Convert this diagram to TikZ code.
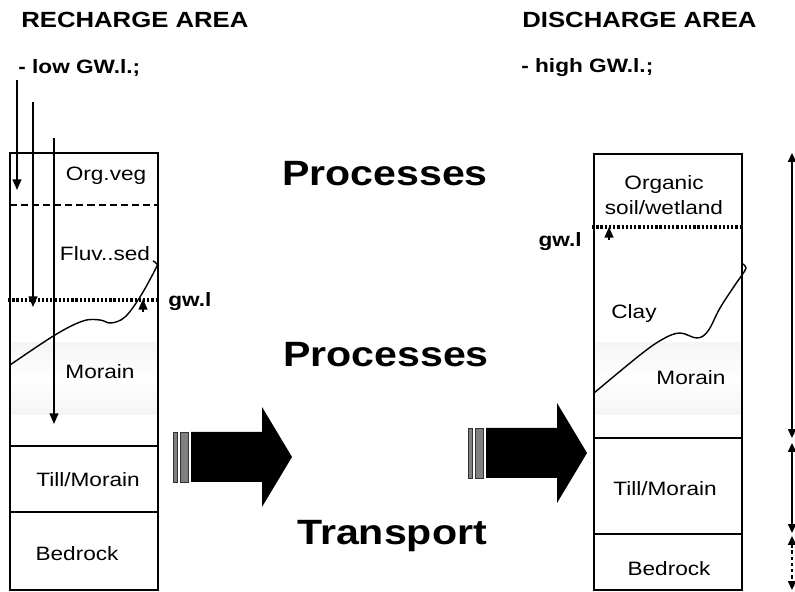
\documentclass[tikz,border=0pt]{standalone}
\usepackage{fontspec}
\setmainfont{Liberation Sans}[FakeStretch=1.17]
\usetikzlibrary{arrows.meta}

\begin{document}
\begin{tikzpicture}[
  lbl/.style={font=\fontsize{11}{13}\selectfont, inner sep=0pt, anchor=base},
  gwlbl/.style={font=\fontsize{11}{13}\selectfont\bfseries, inner sep=0pt, anchor=base},
  head/.style={font=\fontsize{12.5}{15}\selectfont\bfseries, inner sep=0pt, anchor=base west},
  sub/.style={font=\fontsize{11}{13}\selectfont\bfseries, inner sep=0pt, anchor=base west},
  proc/.style={font=\fontsize{20}{24}\selectfont\bfseries, inner sep=0pt, anchor=base},
  box/.style={line width=1.1pt},
  layer/.style={line width=0.8pt},
  sedline/.style={line width=1.2pt, dash pattern=on 4pt off 2.3pt},
  gwline/.style={line width=1.8pt, dash pattern=on 1.3pt off 1.1pt},
  gwcurve/.style={line width=0.8pt},
  flow/.style={line width=0.9pt, -{Triangle[length=6pt,width=5pt]}},
  rise/.style={line width=0.9pt, -{Triangle[length=6pt,width=5pt]}},
  span/.style={line width=1pt, {Triangle[length=5pt,width=4.5pt]}-{Triangle[length=5pt,width=4.5pt]}},
  bar/.style={draw=black!80, fill=black!50, line width=0.5pt},
  band/.style={top color=black!4, bottom color=black!4, middle color=white},
]
\useasboundingbox (0,0) rectangle (15.9,11.84);
%\draw[step=0.5cm,gray,very thin] (0,0) grid (15.9,11.84); %background grid

% headings
\node[head] (rech) at (0.42,11.28) {RECHARGE AREA};
\node[sub] (low) at (0.36,10.36) {- low GW.l.;};
\node[head] (disch) at (10.44,11.28) {DISCHARGE AREA};
\node[sub] (high) at (10.42,10.38) {- high GW.l.;};

% light band in the morain
\shade[band] (0.2,3.54) rectangle (3.16,4.98);
\shade[band] (11.88,3.54) rectangle (14.84,4.98);

% recharge column
\draw[box] (0.2,0.04) rectangle (3.16,8.78);
\draw[layer] (0.2,2.92) -- (3.16,2.92);
\draw[layer] (0.2,1.60) -- (3.16,1.60);
\draw[sedline] (0.2,7.74) -- (3.16,7.74);
\draw[gwline] (0.16,5.84) -- (3.16,5.84);

\node[lbl] (orgveg) at (2.12,8.22) {Org.veg};
\node[lbl] (fluv) at (2.10,6.62) {Fluv..sed};
\node[lbl] (morL) at (2.00,4.26) {Morain};
\node[lbl] (tillL) at (1.76,2.10) {Till/Morain};
\node[lbl] (bedL) at (1.54,0.62) {Bedrock};
\node[gwlbl, anchor=base west] (gwL) at (3.36,5.70) {gw.l};

\draw[gwcurve] plot[smooth, tension=0.6] coordinates {(0.20,4.54) (1.10,5.14) (1.66,5.42) (2.00,5.44) (2.22,5.38) (2.50,5.50) (2.80,5.90) (3.10,6.44) (3.14,6.56) (3.06,6.62)};

% infiltration
\foreach \x/\ya/\yb in {0.34/10.24/8.04, 0.66/9.80/5.70, 1.08/9.08/3.36}
  \draw[flow] (\x,\ya) -- (\x,\yb);
\draw[rise] (2.86,5.60) -- (2.86,5.86);

% discharge column
\draw[box] (11.88,0.04) rectangle (14.84,8.76);
\draw[layer] (11.88,3.08) -- (14.84,3.08);
\draw[layer] (11.88,1.16) -- (14.84,1.16);
\draw[gwline] (11.84,7.30) -- (14.84,7.30);

\node[lbl] (organic) at (13.28,8.04) {Organic};
\node[lbl] (soil) at (13.28,7.54) {soil/wetland};
\node[lbl] (clay) at (12.68,5.46) {Clay};
\node[lbl] (morR) at (13.82,4.14) {Morain};
\node[lbl] (tillR) at (13.30,1.92) {Till/Morain};
\node[lbl] (bedR) at (13.38,0.32) {Bedrock};
\node[gwlbl, anchor=base east] (gwR) at (11.64,6.90) {gw.l};

\draw[gwcurve] plot[smooth, tension=0.6] coordinates {(11.88,3.98) (12.80,4.74) (13.26,5.06) (13.60,5.18) (13.94,5.08) (14.16,5.22) (14.40,5.68) (14.70,6.14) (14.84,6.34) (14.92,6.48) (14.86,6.56)};
\draw[rise] (12.18,7.04) -- (12.18,7.30);

% depth ranges
\draw[span] (15.84,8.78) -- (15.84,3.08);
\draw[span] (15.84,2.98) -- (15.84,1.18);
\draw[span, dash pattern=on 2pt off 1.5pt] (15.84,1.12) -- (15.84,0.04);

% block arrows
\foreach \x/\y in {3.46/2.70, 9.36/2.78} {
  \begin{scope}[shift={(\x,\y)}]
    \draw[bar] (0,-0.5) rectangle (0.08,0.5);
    \draw[bar] (0.14,-0.5) rectangle (0.30,0.5);
    \fill (0.36,-0.5) -- (1.78,-0.5) -- (1.78,-1.0) -- (2.38,0) -- (1.78,1.0) -- (1.78,0.5) -- (0.36,0.5) -- cycle;
  \end{scope}
}

% middle
\node[proc] (proc1) at (7.70,8.12) {Processes};
\node[proc] (proc2) at (7.72,4.50) {Processes};
\node[proc] (trans) at (7.84,0.94) {Transport};

\end{tikzpicture}
\end{document}
